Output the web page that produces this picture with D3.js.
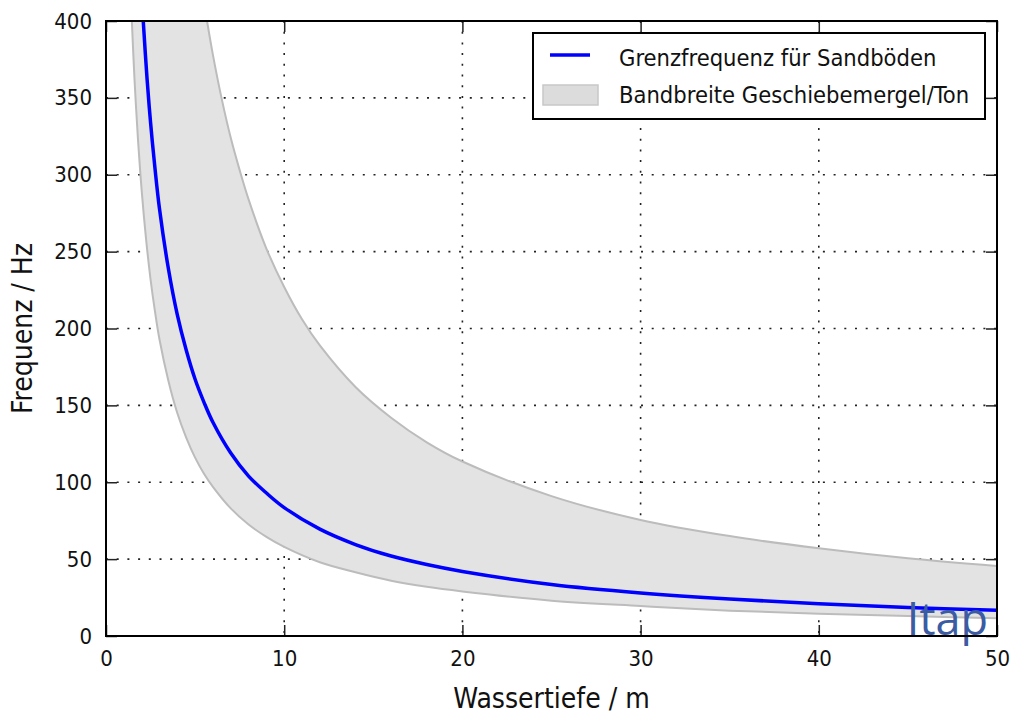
<!DOCTYPE html>
<html>
<head>
<meta charset="utf-8">
<script src="https://cdn.jsdelivr.net/npm/d3@7"></script>
<style>
  body { margin: 0; background: #fff; }
  svg text { font-family: "DejaVu Sans Condensed", "DejaVu Sans", sans-serif; fill: #111; }
</style>
</head>
<body>
<svg id="chart" width="1013" height="718"></svg>
<script>
// values
const depthSand = [2.09, 2.3, 2.5, 2.75, 3, 3.5, 4, 4.5, 5, 5.5, 6, 7, 8, 9, 10, 12, 14, 16, 18, 20, 25, 30, 35, 40, 45, 50];
const freqSand  = [400, 363, 334, 304, 278, 239, 209, 186, 167, 152, 139, 119, 104, 93, 83.5, 69.5, 59.5, 52, 46.5, 42, 33.5, 28, 24, 21, 18.5, 16.7];

const depthLow = [1.45, 1.6, 1.8, 2, 2.25, 2.5, 2.75, 3, 3.5, 4, 4.5, 5, 5.5, 6, 7, 8, 9, 10, 12, 14, 16, 18, 20, 25, 30, 35, 40, 45, 50];
const bandLow  = [400, 362, 322, 290, 258, 232, 211, 193, 166, 145, 129, 116, 105.5, 97, 83, 72.5, 64.5, 58, 48, 41.5, 36, 32, 29, 23, 19.5, 16.5, 14.5, 13, 11.6];

const depthHigh = [5.67, 6, 6.5, 7, 7.5, 8, 9, 10, 11, 12, 14, 16, 18, 20, 25, 30, 35, 40, 45, 50];
const bandHigh  = [400, 378, 349, 324, 303, 284, 252, 227, 206, 189, 162, 142, 126, 113.5, 91, 75.5, 65, 57, 50.5, 45.5];

const xTicks = [0, 10, 20, 30, 40, 50];
const yTicks = [0, 50, 100, 150, 200, 250, 300, 350, 400];

const legendLabels = ["Grenzfrequenz für Sandböden", "Bandbreite Geschiebemergel/Ton"];

let margin = {top: 21, right: 16, bottom: 82, left: 106},
    width = 1013 - margin.left - margin.right,
    height = 718 - margin.top - margin.bottom;

let svg = d3.select("#chart");
let g = svg.append("g").attr("transform", "translate(" + margin.left + "," + margin.top + ")");

let x = d3.scaleLinear().domain([0, 50]).range([0, width]);
let y = d3.scaleLinear().domain([0, 400]).range([height, 0]);

g.append("clipPath").attr("id", "clip")
  .append("rect").attr("width", width).attr("height", height);

// grid
g.append("g").selectAll("line").data(xTicks.slice(1, -1)).enter().append("line")
  .attr("x1", d => x(d)).attr("x2", d => x(d)).attr("y1", 0).attr("y2", height)
  .attr("stroke", "#222").attr("stroke-width", 1.6).attr("stroke-dasharray", "2,8.7");
g.append("g").selectAll("line").data(yTicks.slice(1, -1)).enter().append("line")
  .attr("y1", d => y(d)).attr("y2", d => y(d)).attr("x1", 0).attr("x2", width)
  .attr("stroke", "#222").attr("stroke-width", 1.6).attr("stroke-dasharray", "2,8.7");

let plot = g.append("g").attr("clip-path", "url(#clip)");

let curve = d3.curveCatmullRom.alpha(0.5);
let lowPts = depthLow.map((d, i) => [x(d), y(bandLow[i])]);
let highPts = depthHigh.map((d, i) => [x(d), y(bandHigh[i])]);
let lineGen = d3.line().curve(curve);

// band: lower edge, across the top, back along the upper edge
let lowPath = lineGen(lowPts);
let highRev = lineGen(highPts.slice().reverse());
plot.append("path")
  .attr("fill", "#e3e3e3")
  .attr("d", lowPath + "L" + highRev.slice(1) + "Z");

[lowPts, highPts].forEach(function(pts) {
  plot.append("path")
    .attr("fill", "none")
    .attr("stroke", "#bcbcbc")
    .attr("stroke-width", 2)
    .attr("d", lineGen(pts));
});

// sand line
plot.append("path")
  .attr("fill", "none")
  .attr("stroke", "#0000ff")
  .attr("stroke-width", 3.5)
  .attr("d", lineGen(depthSand.map((d, i) => [x(d), y(freqSand[i])])));

// watermark
g.append("text")
  .attr("x", width - 9).attr("y", height - 1)
  .attr("text-anchor", "end")
  .style("font-family", "'Open Sans', sans-serif")
  .style("font-size", "45px")
  .style("fill", "#3b5ba3")
  .text("Itap");

// axes with inward ticks on all sides
let tickLen = 11;
let axB = d3.axisBottom(x).tickValues(xTicks).tickSizeInner(-tickLen).tickSizeOuter(0).tickPadding(14);
let axL = d3.axisLeft(y).tickValues(yTicks).tickSizeInner(-tickLen).tickSizeOuter(0).tickPadding(14);
let axT = d3.axisTop(x).tickValues(xTicks).tickSizeInner(-tickLen).tickSizeOuter(0).tickFormat("");
let axR = d3.axisRight(y).tickValues(yTicks).tickSizeInner(-tickLen).tickSizeOuter(0).tickFormat("");

function styleAxis(sel) {
  sel.select(".domain").remove();
  sel.selectAll(".tick line").attr("stroke", "#222").attr("stroke-width", 1.5);
  sel.selectAll("text").style("font-size", "22px").attr("fill", "#111");
}

g.append("g").attr("transform", "translate(0," + height + ")").call(axB).call(styleAxis);
g.append("g").call(axL).call(styleAxis);
g.append("g").call(axT).call(styleAxis);
g.append("g").attr("transform", "translate(" + width + ",0)").call(axR).call(styleAxis);

// frame
g.append("rect").attr("width", width).attr("height", height)
  .attr("fill", "none").attr("stroke", "#000").attr("stroke-width", 2);

// axis labels
svg.append("text")
  .attr("x", margin.left + width / 2).attr("y", 708)
  .attr("text-anchor", "middle")
  .style("font-size", "28px")
  .text("Wassertiefe / m");
svg.append("text")
  .attr("transform", "translate(32," + (margin.top + height / 2) + ") rotate(-90)")
  .attr("text-anchor", "middle")
  .style("font-size", "28px")
  .text("Frequenz / Hz");

// legend
let leg = svg.append("g").attr("transform", "translate(533,33)");
leg.append("rect").attr("width", 452).attr("height", 86)
  .attr("fill", "#fff").attr("stroke", "#000").attr("stroke-width", 2);
leg.append("line").attr("x1", 17).attr("x2", 57).attr("y1", 22).attr("y2", 22)
  .attr("stroke", "#0000ff").attr("stroke-width", 3.5);
leg.append("rect").attr("x", 10).attr("y", 52).attr("width", 55).attr("height", 20)
  .attr("fill", "#dcdcdc").attr("stroke", "#c8c8c8").attr("stroke-width", 1.5);
leg.selectAll("text.lab").data(legendLabels).enter().append("text")
  .attr("class", "lab")
  .attr("x", 86).attr("y", (d, i) => 33 + i * 37)
  .style("font-size", "23.5px")
  .text(d => d);
</script>
</body>
</html>
